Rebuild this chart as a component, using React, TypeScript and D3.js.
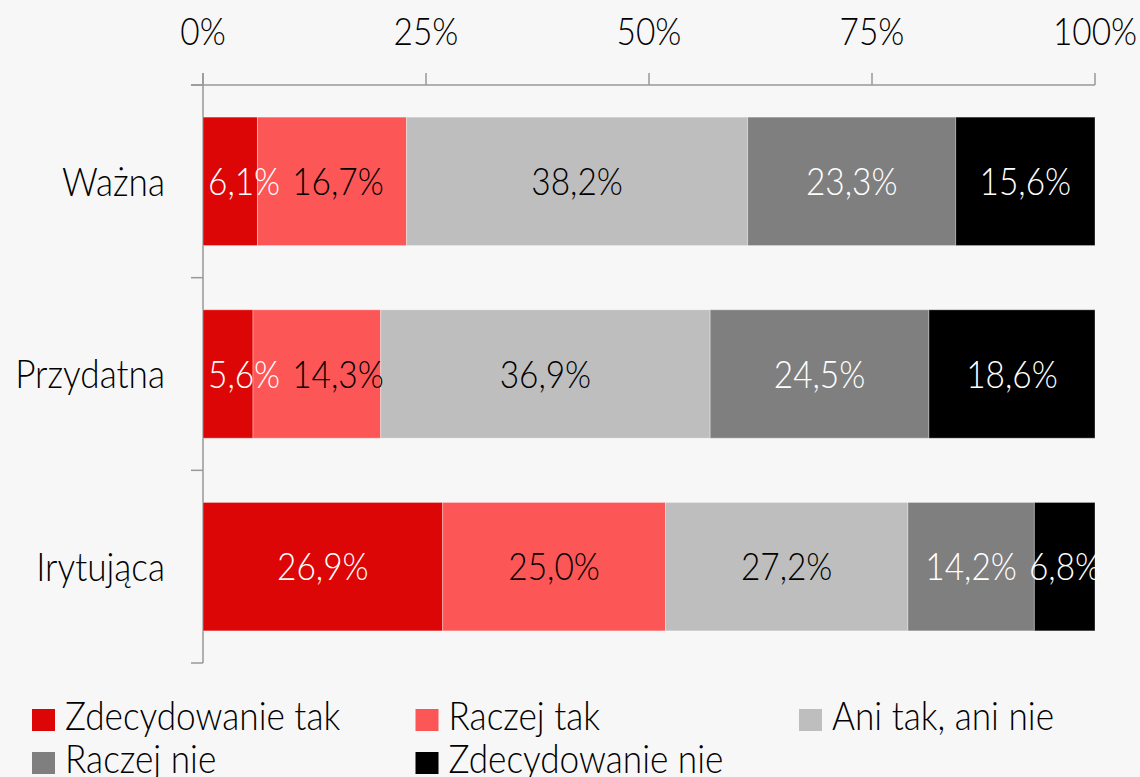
import React, { useRef, useEffect } from "react";
import * as d3 from "d3";

const categories = ["Ważna", "Przydatna", "Irytująca"];
const seriesNames = ["Zdecydowanie tak", "Raczej tak", "Ani tak, ani nie", "Raczej nie", "Zdecydowanie nie"];
const zdecydowanieTak = [6.1, 5.6, 26.9];
const raczejTak = [16.7, 14.3, 25.0];
const aniTakAniNie = [38.2, 36.9, 27.2];
const raczejNie = [23.3, 24.5, 14.2];
const zdecydowanieNie = [15.6, 18.6, 6.8];
const tickValues = [0, 25, 50, 75, 100];

const colors = ["#dc0606", "#fd5656", "#bebebe", "#7f7f7f", "#000000"];
const labelColors = ["#fff", "#000", "#000", "#fff", "#fff"];

const FONT = "Lato, sans-serif";
// the original uses a condensed face; squeeze Lato a little
const SX = 0.88;
const squeeze = (x: number, y: number) => `translate(${x},${y}) scale(${SX},1)`;

const StackedBars = () => {
  const ref = useRef<SVGSVGElement>(null);

  useEffect(() => {
    const W = 1140;
    const H = 777;
    const svg = d3.select(ref.current);
    svg.selectAll("*").remove();

    const rows = categories.map((c, i) => {
      const r: any = { category: c };
      r[seriesNames[0]] = zdecydowanieTak[i];
      r[seriesNames[1]] = raczejTak[i];
      r[seriesNames[2]] = aniTakAniNie[i];
      r[seriesNames[3]] = raczejNie[i];
      r[seriesNames[4]] = zdecydowanieNie[i];
      return r;
    });

    const stacked = d3.stack().keys(seriesNames).offset(d3.stackOffsetExpand)(rows);

    const x = d3.scaleLinear().domain([0, 1]).range([203, 1095]);
    const y = d3
      .scaleBand()
      .domain(categories)
      .range([85, 663])
      .paddingInner(1 / 3)
      .paddingOuter(1 / 6);

    svg.append("rect").attr("width", W).attr("height", H).attr("fill", "#f7f7f7");

    const axisColor = "#999";

    // top axis
    const top = svg.append("g");
    top
      .append("line")
      .attr("x1", 191)
      .attr("x2", x(1))
      .attr("y1", 85)
      .attr("y2", 85)
      .attr("stroke", axisColor)
      .attr("stroke-width", 1.5);
    top
      .selectAll(".tick")
      .data(tickValues)
      .enter()
      .append("line")
      .attr("x1", d => x(d / 100))
      .attr("x2", d => x(d / 100))
      .attr("y1", 73)
      .attr("y2", 85)
      .attr("stroke", axisColor)
      .attr("stroke-width", 1.5);
    top
      .selectAll(".tl")
      .data(tickValues)
      .enter()
      .append("text")
      .attr("transform", d => squeeze(x(d / 100), 45))
      .attr("text-anchor", "middle")
      .attr("font-family", FONT)
      .attr("font-weight", 300)
      .attr("font-size", 38)
      .attr("fill", "#000")
      .text(d => d3.format(".0%")(d / 100));

    // left axis
    const step = y.step();
    const bounds = [85, 85 + step, 85 + 2 * step, 663];
    svg
      .append("line")
      .attr("x1", 203)
      .attr("x2", 203)
      .attr("y1", 73)
      .attr("y2", 663)
      .attr("stroke", axisColor)
      .attr("stroke-width", 1.5);
    svg
      .selectAll(".ltick")
      .data(bounds)
      .enter()
      .append("line")
      .attr("x1", 191)
      .attr("x2", 203)
      .attr("y1", d => d)
      .attr("y2", d => d)
      .attr("stroke", axisColor)
      .attr("stroke-width", 1.5);

    svg
      .selectAll(".cat")
      .data(categories)
      .enter()
      .append("text")
      .attr("transform", d => squeeze(165, (y(d) as number) + y.bandwidth() / 2))
      .attr("dy", "0.36em")
      .attr("text-anchor", "end")
      .attr("font-family", FONT)
      .attr("font-weight", 300)
      .attr("font-size", 40)
      .attr("fill", "#000")
      .text(d => d);

    // bars
    stacked.forEach((s, si) => {
      svg
        .append("g")
        .selectAll("rect")
        .data(s)
        .enter()
        .append("rect")
        .attr("x", d => x(d[0]))
        .attr("width", d => x(d[1]) - x(d[0]))
        .attr("y", (d: any) => y(d.data.category) as number)
        .attr("height", y.bandwidth())
        .attr("fill", colors[si])
        .attr("stroke", "#fff")
        .attr("stroke-opacity", 0.35)
        .attr("stroke-width", 1);
    });

    // value labels, pushed right when they would overlap
    categories.forEach((c, ci) => {
      const cy = (y(c) as number) + y.bandwidth() / 2;
      let prevRight = x(0) + 5;
      stacked.forEach((s, si) => {
        const d: any = s[ci];
        const v = d.data[seriesNames[si]];
        const t = svg
          .append("text")
          .attr("dy", "0.36em")
          .attr("font-family", FONT)
          .attr("font-weight", 300)
          .attr("font-size", 38)
          .attr("fill", labelColors[si])
          .text(v.toFixed(1).replace(".", ",") + "%");
        const w = (t.node() as SVGTextElement).getComputedTextLength() * SX;
        let left = (x(d[0]) + x(d[1])) / 2 - w / 2;
        if (left < prevRight) left = prevRight;
        t.attr("transform", squeeze(left, cy));
        prevRight = left + w + 12;
      });
    });

    // legend
    const legend = svg.append("g");
    seriesNames.forEach((name, i) => {
      const col = i % 3;
      const row = Math.floor(i / 3);
      const lx = 32 + col * 383.5;
      const ly = 720 + row * 43;
      legend
        .append("rect")
        .attr("x", lx)
        .attr("y", ly - 11)
        .attr("width", 23)
        .attr("height", 22)
        .attr("fill", colors[i]);
      legend
        .append("text")
        .attr("transform", squeeze(lx + 33, ly + 10))
        .attr("font-family", FONT)
        .attr("font-weight", 300)
        .attr("font-size", 40)
        .attr("fill", "#000")
        .text(name);
    });
  }, []);

  return (
    <svg
      ref={ref}
      width={1140}
      height={777}
      style={{ position: "absolute", left: 0, top: 0, display: "block" }}
    />
  );
};

export default function App() {
  return <StackedBars />;
}
